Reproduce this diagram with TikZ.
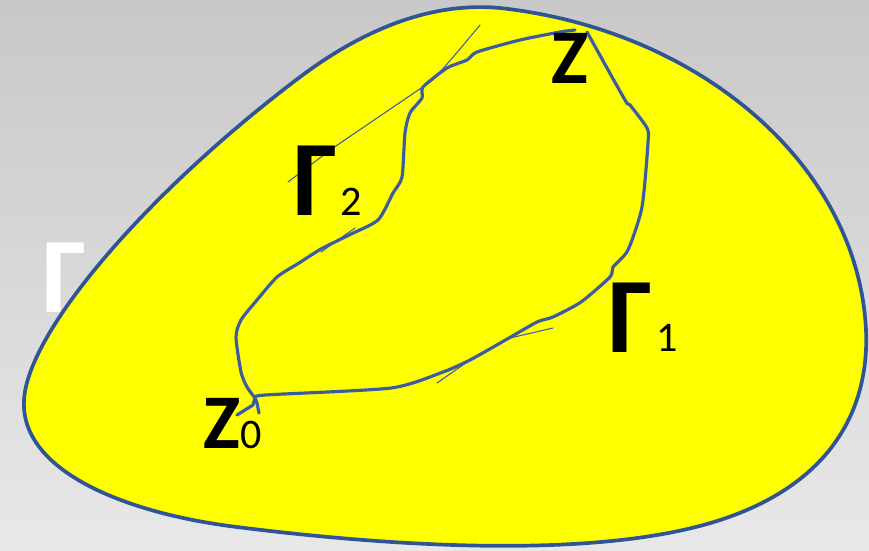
\documentclass[tikz,border=0pt]{standalone}
\usepackage{fontspec}
\setmainfont{Carlito}
\definecolor{bgtop}{RGB}{200,200,200}
\definecolor{bgbot}{RGB}{232,232,232}
\definecolor{blobyellow}{RGB}{255,255,0}
\definecolor{rimblue}{RGB}{47,85,151}
\definecolor{penblue}{RGB}{60,92,162}

\begin{document}
\begin{tikzpicture}[x=0.2mm,y=-0.2mm,
  rim/.style={draw=rimblue,line width=2.1pt,fill=blobyellow},
  pen/.style={draw=penblue,line width=1.8pt,line join=round,line cap=round},
  hair/.style={draw=penblue,line width=0.6pt,line cap=round},
  gam/.style={font=\fontsize{61}{61}\selectfont\bfseries,anchor=base west,inner sep=0pt},
  pnt/.style={font=\fontsize{44}{44}\selectfont\bfseries,anchor=base west,inner sep=0pt},
  sub/.style={font=\fontsize{24}{24}\selectfont,anchor=base west,inner sep=0pt}]

% --- grey backdrop, fixes the page size ---
\useasboundingbox (0,0) rectangle (869,550);
\shade[top color=bgtop,bottom color=bgbot] (0,0) rectangle (869,550);

% --- the yellow region with its rim ---
\path[rim] (500,8) .. controls (700,30) and (858,165) .. (866,330)
  .. controls (870,420) and (820,500) .. (683,530)
  .. controls (560,557) and (380,545) .. (237,527)
  .. controls (123,513) and (20,470) .. (24,400)
  .. controls (28,330) and (150,190) .. (300,77)
  .. controls (368,26) and (435,2) .. cycle;
\node[gam,text=white] (gam) at (42,312) {Γ};

% --- end points ---
\coordinate (z0) at (255,398);
\coordinate (z)  at (587,32);

% --- path Gamma_1: right and up ---
\draw[pen] (z0) plot[smooth,tension=0.4] coordinates {
  (255,398) (265,395) (391,388) (443,372) (470,360) (502,342)
  (537,322) (553,317) (581,302) (610,277) (613,267) (628,250)
  (642,207) (648,143) (647,128) (630,105) (625,100) (587,32)};

% --- path Gamma_2: left and up ---
\draw[pen] (z0) plot[smooth,tension=0.4] coordinates {
  (255,398) (247,387) (241,372) (236,337) (241,320) (257,300)
  (277,277) (299,263) (321,249) (349,235) (378,220) (393,193)
  (402,177) (405,133) (410,113) (422,98) (423,87) (447,68)
  (467,60) (477,52) (520,40) (560,32) (575,30)};

% --- stray pen strokes ---
\draw[hair] (480,25) .. controls (455,55) .. (433,80) -- (333,148) -- (288,182);
\draw[hair] (355,228) -- (321,252);
\draw[hair] (553,328) -- (510,338);
\draw[hair] (470,360) -- (437,383);
\draw[pen] (z0) -- (253,405) -- (237,415);
\draw[pen] (z0) -- (257,403) -- (259,413);

% --- labels ---
\node[pnt] (zl)  at (551,83)  {Z};
\node[pnt] (z0l) at (203,448) {Z};
\node[sub] (z0s) at (240,448) {0};
\node[gam] (g1)  at (608,352) {Γ};
\node[sub] (g1s) at (656,351) {1};
\node[gam] (g2)  at (293,215) {Γ};
\node[sub] (g2s) at (340,215) {2};
\end{tikzpicture}
\end{document}
